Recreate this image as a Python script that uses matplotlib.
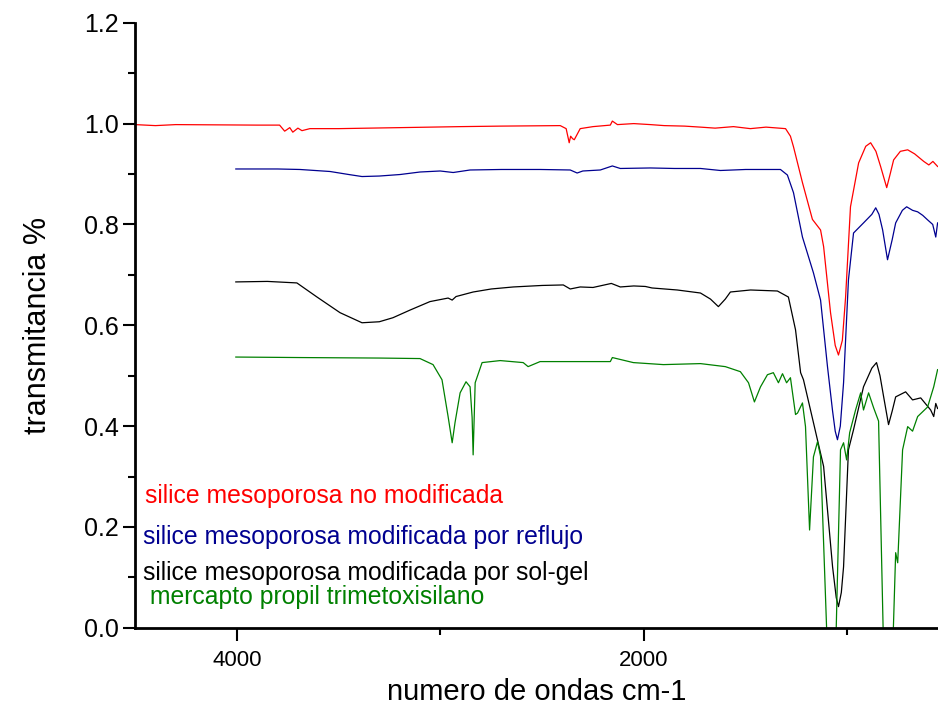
import numpy as np
import matplotlib
matplotlib.use("Agg")
import matplotlib.pyplot as plt
from matplotlib.ticker import MultipleLocator, FormatStrFormatter

plt.rcParams['font.family'] = ['Liberation Sans', 'DejaVu Sans']

# silice mesoporosa no modificada
wn_red = [4500, 4400, 4300, 3900, 3790, 3765, 3754, 3740, 3725, 3700, 3680, 3641, 3500, 3198,
          2900, 2706, 2411, 2382, 2367, 2360, 2350, 2342, 2313, 2250, 2165, 2155, 2130, 2050,
          1968, 1900, 1800, 1722, 1650, 1560, 1477, 1400, 1304, 1280, 1265, 1221, 1172, 1132,
          1117, 1083, 1060, 1044, 1025, 1009, 985, 945, 910, 886, 860, 837, 807, 790, 773,
          740, 704, 670, 640, 625, 600, 580, 557]
tr_red = [0.998, 0.996, 0.998, 0.997, 0.997, 0.985, 0.988, 0.992, 0.983, 0.991, 0.986, 0.990, 0.990, 0.992,
          0.994, 0.995, 0.996, 0.990, 0.962, 0.975, 0.970, 0.968, 0.990, 0.994, 0.997, 1.005, 0.998, 1.000,
          0.998, 0.996, 0.995, 0.993, 0.991, 0.994, 0.990, 0.993, 0.990, 0.975, 0.954, 0.883, 0.810, 0.789,
          0.756, 0.625, 0.560, 0.541, 0.570, 0.656, 0.835, 0.922, 0.955, 0.962, 0.945, 0.915, 0.873, 0.900, 0.928,
          0.945, 0.948, 0.940, 0.930, 0.925, 0.918, 0.925, 0.915]

# silice mesoporosa modificada por reflujo
wn_blue = [4005, 3800, 3690, 3542, 3450, 3385, 3300, 3198, 3100, 3001, 2937, 2854, 2700, 2510,
           2362, 2328, 2300, 2214, 2155, 2116, 1968, 1850, 1722, 1624, 1500, 1329, 1295, 1265,
           1221, 1167, 1132, 1098, 1073, 1060, 1049, 1035, 1019, 995, 970, 921, 880, 861, 845,
           827, 803, 780, 763, 730, 709, 680, 655, 630, 606, 581, 566, 557]
tr_blue = [0.910, 0.910, 0.909, 0.905, 0.899, 0.895, 0.896, 0.899, 0.904, 0.906, 0.903, 0.908, 0.909, 0.909,
           0.908, 0.902, 0.906, 0.908, 0.916, 0.911, 0.912, 0.911, 0.911, 0.907, 0.909, 0.909, 0.898, 0.863,
           0.775, 0.704, 0.650, 0.518, 0.430, 0.390, 0.373, 0.400, 0.486, 0.690, 0.783, 0.803, 0.820, 0.833, 0.820,
           0.789, 0.730, 0.770, 0.803, 0.828, 0.835, 0.828, 0.825, 0.818, 0.809, 0.800, 0.775, 0.803]

# silice mesoporosa modificada por sol-gel
wn_black = [4005, 3850, 3705, 3606, 3493, 3385, 3300, 3233, 3150, 3051, 2962, 2942, 2923, 2839,
            2750, 2642, 2500, 2396, 2362, 2313, 2250, 2160, 2116, 2050, 1993, 1960, 1836, 1722,
            1673, 1634, 1600, 1575, 1476, 1344, 1290, 1255, 1230, 1216, 1167, 1117, 1073, 1055,
            1044, 1030, 1019, 995, 970, 921, 880, 857, 840, 822, 798, 780, 763, 714, 680, 640,
            591, 576, 566, 557]
tr_black = [0.686, 0.687, 0.684, 0.656, 0.625, 0.605, 0.607, 0.615, 0.630, 0.647, 0.654, 0.650, 0.657, 0.666,
            0.672, 0.676, 0.679, 0.680, 0.672, 0.676, 0.675, 0.683, 0.676, 0.678, 0.677, 0.674, 0.670, 0.664,
            0.652, 0.637, 0.652, 0.666, 0.670, 0.668, 0.656, 0.591, 0.506, 0.492, 0.407, 0.320, 0.121, 0.060,
            0.042, 0.070, 0.121, 0.353, 0.393, 0.478, 0.515, 0.526, 0.500, 0.458, 0.403, 0.430, 0.458, 0.468, 0.452, 0.456,
            0.432, 0.419, 0.445, 0.435]

# mercapto propil trimetoxisilano
wn_green = [4005, 3690, 3300, 3100, 3036, 2992, 2962, 2942, 2928, 2903, 2874, 2854, 2844, 2839,
            2829, 2795, 2706, 2593, 2569, 2510, 2347, 2165, 2155, 2052, 1904, 1722, 1600, 1526,
            1486, 1457, 1427, 1393, 1364, 1339, 1319, 1299, 1280, 1255, 1245, 1221, 1206, 1186,
            1167, 1147, 1132, 1098, 1073, 1058, 1034, 1019, 1004, 989, 960, 935, 921, 896, 871,
            847, 822, 798, 778, 763, 753, 729, 704, 680, 655, 606, 576, 557]
tr_green = [0.537, 0.536, 0.535, 0.534, 0.522, 0.492, 0.419, 0.367, 0.407, 0.466, 0.488, 0.478, 0.417, 0.343,
            0.486, 0.526, 0.530, 0.526, 0.518, 0.528, 0.528, 0.528, 0.536, 0.526, 0.522, 0.524, 0.518, 0.508,
            0.486, 0.448, 0.478, 0.502, 0.506, 0.486, 0.504, 0.486, 0.496, 0.423, 0.426, 0.446, 0.399, 0.194,
            0.339, 0.369, 0.340, -0.050, -0.100, -0.050, 0.353, 0.367, 0.333, 0.387, 0.432, 0.466, 0.432, 0.466, 0.436,
            0.410, -0.050, -0.100, -0.050, 0.149, 0.129, 0.353, 0.399, 0.390, 0.419, 0.438, 0.478, 0.512]

labels = ["silice mesoporosa no modificada",
          "silice mesoporosa modificada por reflujo",
          "silice mesoporosa modificada por sol-gel",
          " mercapto propil trimetoxisilano"]
colors = ["#ff0000", "#000090", "#000000", "#008000"]

fig = plt.figure(figsize=(9.38, 7.11), dpi=100)
ax = fig.add_axes([0.144, 0.117, 0.856, 0.851])

series = [(wn_red, tr_red), (wn_blue, tr_blue), (wn_black, tr_black), (wn_green, tr_green)]
for (wn, tr), c in zip(series, colors):
    ax.plot(wn, tr, color=c, lw=0.9)

ax.set_xlim(4500, 555)
ax.set_ylim(0, 1.2)

ax.xaxis.set_major_locator(MultipleLocator(2000))
ax.xaxis.set_minor_locator(MultipleLocator(1000))
ax.yaxis.set_major_locator(MultipleLocator(0.2))
ax.yaxis.set_minor_locator(MultipleLocator(0.1))
ax.yaxis.set_major_formatter(FormatStrFormatter('%.1f'))

for s in ['top', 'right']:
    ax.spines[s].set_visible(False)
for s in ['left', 'bottom']:
    ax.spines[s].set_linewidth(2)

ax.tick_params(which='major', length=9, width=1.5)
ax.tick_params(which='minor', length=5, width=1.5)
ax.tick_params(axis='x', which='major', labelsize=16, pad=7)
ax.tick_params(axis='y', which='major', labelsize=18, pad=3)

ax.set_xlabel("numero de ondas cm-1", fontsize=21, labelpad=5)
ax.set_ylabel("transmitancia %", fontsize=22, labelpad=22)

text_pos = [(4453, 0.262), (4460, 0.180), (4460, 0.109), (4460, 0.0615)]
for (x, y), lab, c in zip(text_pos, labels, colors):
    ax.text(x, y, lab, color=c, fontsize=17.8, va='center', ha='left')

fig.savefig("out.png", dpi=100)
